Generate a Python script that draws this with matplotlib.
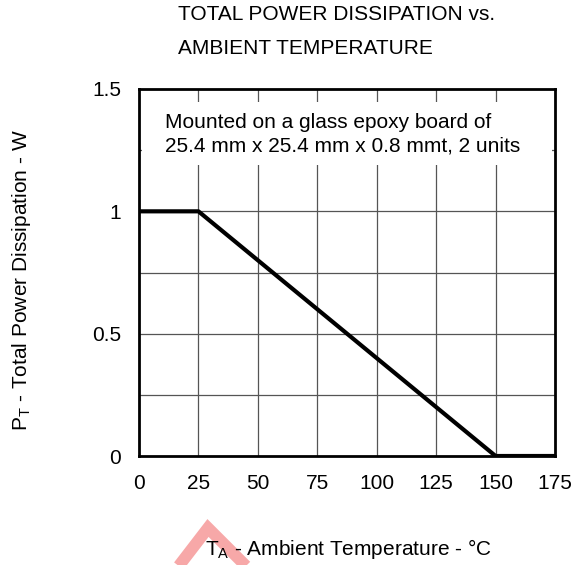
import matplotlib
matplotlib.use("Agg")
from matplotlib import pyplot as plt
from matplotlib.patches import Polygon, Rectangle

plt.rcParams["font.family"] = ["Liberation Sans", "DejaVu Sans"]

# derating curve (temperature in degC, power in W)
TEMP = [0, 25, 150, 175]
POWER = [1.0, 1.0, 0.0, 0.0]

X_TICKS = [0, 25, 50, 75, 100, 125, 150, 175]
Y_TICKS = [0, 0.5, 1, 1.5]
Y_TICK_LABELS = ["0", "0.5", "1", "1.5"]
Y_GRID = [0.25, 0.5, 0.75, 1.0, 1.25]

NOTE = "Mounted on a glass epoxy board of\n25.4 mm x 25.4 mm x 0.8 mmt, 2 units"

W, H = 582, 565
FS = 15

fig = plt.figure(figsize=(W / 100, H / 100), dpi=100)
ax = fig.add_axes([139 / W, 1 - 456 / H, (555 - 139) / W, (456 - 89) / H])

# grid
for x in X_TICKS[1:-1]:
    ax.axvline(x, color="#555555", linewidth=0.9, zorder=1)
for y in Y_GRID:
    ax.axhline(y, color="#555555", linewidth=0.9, zorder=1)

ax.plot(TEMP, POWER, color="black", linewidth=3, solid_capstyle="butt", zorder=3)

ax.set_xlim(0, 175)
ax.set_ylim(0, 1.5)
ax.set_xticks(X_TICKS)
ax.set_yticks(Y_TICKS)
ax.set_yticklabels(Y_TICK_LABELS)
ax.tick_params(length=0, labelsize=FS)
ax.tick_params(axis="x", pad=13)
ax.tick_params(axis="y", pad=13)
for s in ax.spines.values():
    s.set_linewidth(2)
    s.set_zorder(5)

# white block behind the note hides the grid
ax.add_patch(Rectangle((1.3, 1.19), 172.4, 0.255, facecolor="white", edgecolor="none", zorder=2))
ax.text(10.9, 1.314, NOTE, fontsize=FS, ha="left", va="center", linespacing=1.3, zorder=4)

fig.text(178 / W, 1 - 15 / H, "TOTAL POWER DISSIPATION vs.", fontsize=FS, ha="left", va="center")
fig.text(178 / W, 1 - 48 / H, "AMBIENT TEMPERATURE", fontsize=FS, ha="left", va="center")

fig.text(22 / W, 1 - 280 / H, "P$_\\mathregular{T}$ - Total Power Dissipation - W",
         fontsize=FS, rotation=90, ha="center", va="center")

# faint watermark fragment (triangle outline) behind the x label
wm = Polygon([[168 / W, 1 - 580 / H], [208 / W, 1 - 528 / H], [260 / W, 1 - 580 / H]],
             closed=False, transform=fig.transFigure, facecolor="none", edgecolor="#f7a8a8",
             linewidth=8.5, joinstyle="miter", zorder=0)
fig.patches.append(wm)

fig.text(348 / W, 1 - 549 / H, "T$_\\mathregular{A}$ - Ambient Temperature - \u00b0C",
         fontsize=FS, ha="center", va="center")

fig.savefig("out.png", dpi=100)
